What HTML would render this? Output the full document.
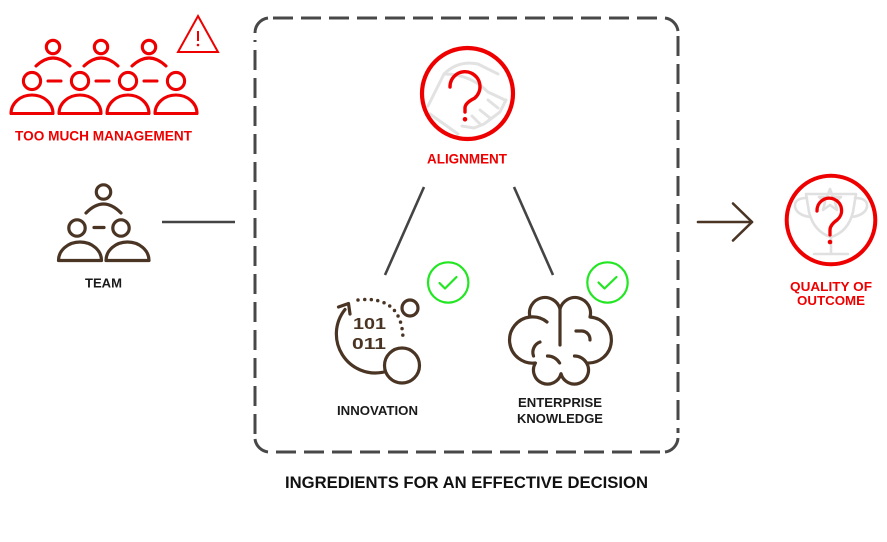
<!DOCTYPE html>
<html>
<head>
<meta charset="utf-8">
<style>
  html,body{margin:0;padding:0;background:#fff;}
  body{width:887px;height:542px;overflow:hidden;}
  svg{display:block;}
  text{font-family:"Liberation Sans", Arial, sans-serif;font-weight:bold;}
</style>
</head>
<body>
<svg width="887" height="542" viewBox="0 0 887 542" xmlns="http://www.w3.org/2000/svg">
  <rect width="887" height="542" fill="#fff"/>

  <!-- ===== TOO MUCH MANAGEMENT (red) ===== -->
  <g fill="none" stroke="#ee0000" stroke-width="3.1" stroke-linecap="round" stroke-linejoin="round">
    <circle cx="53" cy="47" r="6.7"/>
    <circle cx="101" cy="47" r="6.7"/>
    <circle cx="149" cy="47" r="6.7"/>
    <path d="M36,66 Q53,50 70,66"/>
    <path d="M84,66 Q101,50 118,66"/>
    <path d="M132,66 Q149,50 166,66"/>
    <circle cx="32" cy="81" r="8.6"/>
    <circle cx="80" cy="81" r="8.6"/>
    <circle cx="128" cy="81" r="8.6"/>
    <circle cx="176" cy="81" r="8.6"/>
    <path d="M48,81 L61,81 M96,81 L109,81 M144,81 L157,81"/>
    <path d="M11,113.5 A21,18.5 0 0 1 53,113.5 Z"/>
    <path d="M59,113.5 A21,18.5 0 0 1 101,113.5 Z"/>
    <path d="M107,113.5 A21,18.5 0 0 1 149,113.5 Z"/>
    <path d="M155,113.5 A21,18.5 0 0 1 197,113.5 Z"/>
  </g>
  <g fill="none" stroke="#ee0000" stroke-width="2" stroke-linejoin="miter">
    <path d="M198,16 L218,52 L178,52 Z"/>
    <path d="M198,31 L198,41"/>
  </g>
  <circle cx="198" cy="45" r="1.3" fill="#ee0000"/>
  <text x="15" y="140.7" font-size="13.5" fill="#ee0000" textLength="177" lengthAdjust="spacingAndGlyphs">TOO MUCH MANAGEMENT</text>

  <!-- ===== TEAM (brown) ===== -->
  <g fill="none" stroke="#4a3424" stroke-width="3.2" stroke-linecap="round" stroke-linejoin="round">
    <circle cx="103.5" cy="192" r="7.2"/>
    <path d="M86,213 Q103.5,195 121,213"/>
    <circle cx="77" cy="228" r="8.2"/>
    <circle cx="121" cy="228" r="8.2"/>
    <path d="M94,227.5 L104,227.5"/>
    <path d="M58.5,260.5 A21.5,18.5 0 0 1 101.5,260.5 Z"/>
    <path d="M106,260.5 A21.5,18.5 0 0 1 149,260.5 Z"/>
  </g>
  <text x="85" y="287.3" font-size="13.2" fill="#1a1a1a" textLength="37" lengthAdjust="spacingAndGlyphs">TEAM</text>

  <path d="M162,222 L235,222" stroke="#444" stroke-width="2.6"/>

  <!-- ===== dashed box: solid corners + dashed edges ===== -->
  <g fill="none" stroke="#484848" stroke-width="3" stroke-linecap="butt">
    <path d="M255,33 A15,15 0 0 1 268,18"/>
    <path d="M665,18 A15,15 0 0 1 678,31"/>
    <path d="M678,438 A15,15 0 0 1 665,452"/>
    <path d="M268,452 A15,15 0 0 1 255,439"/>
    <path d="M273,18 L662,18" stroke-dasharray="20 8"/>
    <path d="M678,36 L678,433" stroke-dasharray="20 8"/>
    <path d="M660,452 L272,452" stroke-dasharray="20 8"/>
    <path d="M255,434 L255,40" stroke-dasharray="20 8"/>
  </g>

  <!-- ===== ALIGNMENT ===== -->
  <g fill="none" stroke="#e2e2e2" stroke-width="3" stroke-linecap="round" stroke-linejoin="round">
    <path d="M428,106 L444,74 Q458,60 478,64 L498,74"/>
    <path d="M444,74 Q470,74 488,92 L505,100"/>
    <path d="M506,100 L500,112 L492,118 L484,124 L474,128 L462,126"/>
    <path d="M498,108 L488,100 M490,118 L480,110 M480,124 L472,116"/>
    <path d="M430,114 L458,134"/>
  </g>
  <circle cx="467.5" cy="93.5" r="45.5" fill="none" stroke="#ee0000" stroke-width="4.2"/>
  <g fill="none" stroke="#ee0000" stroke-width="3.4" stroke-linecap="round" stroke-linejoin="round">
    <path d="M450,87 A15,15 0 1 1 474.6,98.2 Q465,103 465,108 L465,112"/>
  </g>
  <circle cx="465" cy="119.3" r="2.3" fill="#ee0000"/>
  <text x="427" y="163.5" font-size="13.5" fill="#ee0000" textLength="80" lengthAdjust="spacingAndGlyphs">ALIGNMENT</text>

  <path d="M424,187 L385,275" stroke="#444" stroke-width="2.6"/>
  <path d="M514,187 L553,275" stroke="#444" stroke-width="2.6"/>

  <!-- ===== green checks ===== -->
  <g fill="none" stroke="#22e622" stroke-width="2.2" stroke-linecap="round" stroke-linejoin="round">
    <circle cx="448.2" cy="282.5" r="20.2"/>
    <path d="M439.5,283 L445,288.5 L456.5,277"/>
    <circle cx="607.5" cy="282.5" r="20.2"/>
    <path d="M598.5,282.5 L604.5,288.5 L616.5,277"/>
  </g>

  <!-- ===== INNOVATION icon ===== -->
  <g fill="none" stroke="#4a3424" stroke-width="3.2" stroke-linecap="round" stroke-linejoin="round">
    <path d="M384,372 A39,39 0 0 1 345,309.5"/>
    <path d="M338.5,307 L348.5,303.5 L350,314"/>
    <circle cx="410" cy="308" r="8"/>
    <circle cx="402" cy="365.5" r="17.5"/>
    <path d="M358,300 Q402,295 403,339" stroke-dasharray="0 6.6" stroke-width="3.5"/>
  </g>
  <text x="353" y="329" font-size="15.5" fill="#4a3424" textLength="33" lengthAdjust="spacingAndGlyphs">101</text>
  <text x="352" y="349" font-size="15.5" fill="#4a3424" textLength="34" lengthAdjust="spacingAndGlyphs">011</text>
  <text x="337" y="415" font-size="13" fill="#1a1a1a" textLength="81" lengthAdjust="spacingAndGlyphs">INNOVATION</text>

  <!-- ===== ENTERPRISE KNOWLEDGE brain ===== -->
  <g fill="none" stroke="#4a3424" stroke-width="3.2" stroke-linecap="round" stroke-linejoin="round">
    <path d="M560,309 A15.5,15.5 0 0 1 590,317 A22.5,22.5 0 0 1 586.6,363 A14,14 0 1 1 561,373.7 A14,14 0 1 1 535.4,363 A22.5,22.5 0 0 1 530,317 A15.5,15.5 0 0 1 560,309 Z"/>
    <path d="M560,309 L560,345"/>
    <path d="M547.5,356 A14,14 0 0 1 559.6,363"/>
    <path d="M574.5,356 A14,14 0 0 1 586.6,363"/>
    <path d="M540,342 A11,11 0 0 0 533.5,356"/>
    <path d="M576,331 L582,331 A8.5,8.5 0 0 1 590,340"/>
    <path d="M530,317 Q540,316 547,322"/>
  </g>
  <text x="518" y="407" font-size="13" fill="#1a1a1a" textLength="84" lengthAdjust="spacingAndGlyphs">ENTERPRISE</text>
  <text x="517" y="423" font-size="13" fill="#1a1a1a" textLength="86" lengthAdjust="spacingAndGlyphs">KNOWLEDGE</text>

  <!-- ===== arrow ===== -->
  <g fill="none" stroke="#4a3424" stroke-width="2.6" stroke-linecap="round" stroke-linejoin="round">
    <path d="M698,222 L752,222"/>
    <path d="M733,203.5 L752,222 L733,240.5"/>
  </g>

  <!-- ===== QUALITY OF OUTCOME ===== -->
  <g fill="none" stroke="#e0e0e0" stroke-width="2.6" stroke-linecap="round" stroke-linejoin="round">
    <path d="M806,194 L856,194 L853,212 Q848,232 831,237 Q814,232 809,212 Z"/>
    <path d="M807,198 Q794,198 795,207 Q797,215 810,217"/>
    <path d="M855,198 Q868,198 867,207 Q865,215 852,217"/>
    <path d="M831,237 L831,253"/>
    <path d="M814,254 L848,254"/>
    <path d="M830,189 L833,197 L841,197 L835,202 L837,210 L830,205 L823,210 L825,202 L819,197 L827,197 Z"/>
  </g>
  <circle cx="831" cy="220" r="44.3" fill="none" stroke="#ee0000" stroke-width="4"/>
  <g fill="none" stroke="#ee0000" stroke-width="3.3" stroke-linecap="round" stroke-linejoin="round">
    <path d="M817,211 A12.3,12.3 0 1 1 837.2,219.9 Q830,225 830,230 L830,235"/>
  </g>
  <circle cx="830" cy="242" r="2.3" fill="#ee0000"/>
  <text x="790" y="291" font-size="13.3" fill="#ee0000" textLength="82" lengthAdjust="spacingAndGlyphs">QUALITY OF</text>
  <text x="797" y="305" font-size="13.3" fill="#ee0000" textLength="68" lengthAdjust="spacingAndGlyphs">OUTCOME</text>

  <!-- ===== bottom title ===== -->
  <text x="285" y="488" font-size="16.8" fill="#111" textLength="363" lengthAdjust="spacingAndGlyphs">INGREDIENTS FOR AN EFFECTIVE DECISION</text>
</svg>
</body>
</html>
